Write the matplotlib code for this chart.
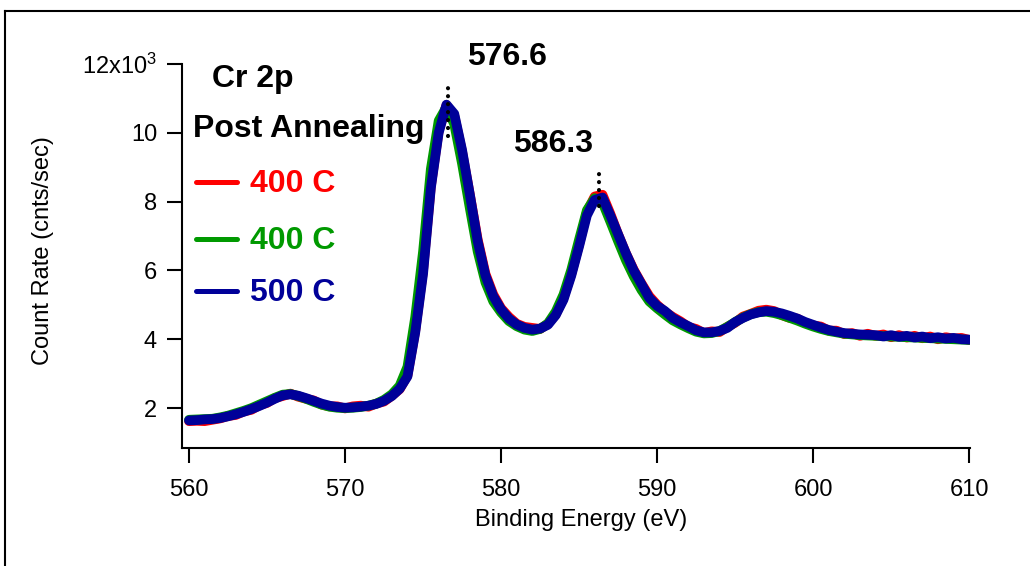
"""Cr 2p XPS spectra after annealing (three runs overlaid)."""

import matplotlib

matplotlib.use("Agg")
import matplotlib.pyplot as plt
from matplotlib.lines import Line2D

# binding energy grid [eV]
energy = [
    560.0, 560.5, 561.0, 561.5, 562.0, 562.5, 563.0, 563.5, 564.0, 564.5,
    565.0, 565.5, 566.0, 566.5, 567.0, 567.5, 568.0, 568.5, 569.0, 569.5,
    570.0, 570.5, 571.0, 571.5, 572.0, 572.5, 573.0, 573.5, 574.0, 574.5,
    575.0, 575.5, 576.0, 576.5, 577.0, 577.5, 578.0, 578.5, 579.0, 579.5,
    580.0, 580.5, 581.0, 581.5, 582.0, 582.5, 583.0, 583.5, 584.0, 584.5,
    585.0, 585.5, 586.0, 586.5, 587.0, 587.5, 588.0, 588.5, 589.0, 589.5,
    590.0, 590.5, 591.0, 591.5, 592.0, 592.5, 593.0, 593.5, 594.0, 594.5,
    595.0, 595.5, 596.0, 596.5, 597.0, 597.5, 598.0, 598.5, 599.0, 599.5,
    600.0, 600.5, 601.0, 601.5, 602.0, 602.5, 603.0, 603.5, 604.0, 604.5,
    605.0, 605.5, 606.0, 606.5, 607.0, 607.5, 608.0, 608.5, 609.0, 609.5,
    610.0,
]

# count rate in units of 10^3 cnts/sec
red_400 = [
    1.62, 1.63, 1.62, 1.66, 1.70, 1.77, 1.80, 1.90, 1.95, 2.08,
    2.15, 2.29, 2.35, 2.42, 2.33, 2.27, 2.22, 2.10, 2.05, 2.05,
    1.99, 2.05, 2.07, 2.04, 2.13, 2.19, 2.36, 2.55, 2.95, 4.25,
    6.00, 8.45, 10.05, 10.80, 10.50, 9.45, 8.20, 6.90, 5.90, 5.30,
    4.90, 4.65, 4.45, 4.36, 4.33, 4.30, 4.45, 4.72, 5.20, 5.90,
    6.75, 7.70, 8.15, 8.20, 7.65, 7.05, 6.50, 6.02, 5.62, 5.25,
    5.00, 4.80, 4.65, 4.52, 4.36, 4.30, 4.18, 4.23, 4.21, 4.36,
    4.48, 4.66, 4.74, 4.83, 4.86, 4.82, 4.70, 4.62, 4.60, 4.47,
    4.40, 4.37, 4.25, 4.25, 4.15, 4.18, 4.10, 4.16, 4.10, 4.14,
    4.06, 4.12, 4.05, 4.10, 4.03, 4.08, 4.00, 4.06, 4.02, 4.04,
    3.98,
]
green_400 = [
    1.66, 1.67, 1.68, 1.69, 1.73, 1.78, 1.85, 1.92, 2.00, 2.10,
    2.20, 2.30, 2.39, 2.41, 2.35, 2.27, 2.18, 2.10, 2.04, 2.01,
    2.00, 2.01, 2.03, 2.07, 2.13, 2.24, 2.40, 2.65, 3.20, 4.65,
    6.55, 8.95, 10.35, 10.75, 10.25, 9.10, 7.80, 6.55, 5.65, 5.10,
    4.78, 4.53, 4.38, 4.28, 4.24, 4.30, 4.46, 4.80, 5.30, 6.02,
    6.90, 7.75, 8.10, 7.98, 7.42, 6.85, 6.30, 5.83, 5.43, 5.10,
    4.90, 4.72, 4.55, 4.43, 4.32, 4.22, 4.17, 4.18, 4.24, 4.36,
    4.50, 4.63, 4.73, 4.79, 4.80, 4.76, 4.70, 4.62, 4.54, 4.45,
    4.37, 4.30, 4.24, 4.20, 4.16, 4.14, 4.12, 4.11, 4.10, 4.09,
    4.08, 4.07, 4.06, 4.05, 4.04, 4.03, 4.02, 4.01, 4.00, 3.99,
    3.98,
]
blue_500 = [
    1.64, 1.65, 1.67, 1.68, 1.71, 1.76, 1.82, 1.89, 1.97, 2.06,
    2.16, 2.27, 2.37, 2.40, 2.36, 2.29, 2.21, 2.13, 2.07, 2.03,
    2.01, 2.02, 2.04, 2.07, 2.12, 2.21, 2.35, 2.56, 2.92, 4.20,
    5.90, 8.40, 10.00, 10.82, 10.55, 9.50, 8.20, 6.85, 5.85, 5.25,
    4.87, 4.60, 4.43, 4.33, 4.28, 4.31, 4.42, 4.70, 5.15, 5.85,
    6.70, 7.60, 8.05, 8.12, 7.60, 7.05, 6.50, 6.00, 5.60, 5.20,
    4.97, 4.82, 4.62, 4.49, 4.38, 4.26, 4.20, 4.20, 4.24, 4.33,
    4.50, 4.62, 4.72, 4.78, 4.82, 4.80, 4.75, 4.68, 4.60, 4.50,
    4.42, 4.34, 4.27, 4.22, 4.18, 4.16, 4.14, 4.13, 4.12, 4.08,
    4.12, 4.07, 4.10, 4.05, 4.08, 4.03, 4.06, 4.02, 4.04, 4.00,
    3.99,
]

series_labels = ["400 C", "400 C", "500 C"]
series_colors = ["#ff0000", "#009900", "#000099"]

# peak markers: position [eV], dotted span (low, high), label position
peak_pos = [576.6, 586.3]
peak_span = [(9.9, 11.5), (7.86, 8.83)]
peak_text = ["576.6", "586.3"]
peak_text_xy = [(577.8, 12.2), (580.75, 9.67)]

y_ticks = [2, 4, 6, 8, 10, 12]
y_ticklabels = ["2", "4", "6", "8", "10", "12x10$^{3}$"]
x_ticks = [560, 570, 580, 590, 600, 610]

plt.rcParams.update({
    "font.family": ["Liberation Sans", "DejaVu Sans"],
    "mathtext.fontset": "custom",
    "mathtext.rm": "Liberation Sans",
    "mathtext.it": "Liberation Sans:italic",
})

fig = plt.figure(figsize=(10.3, 5.66), dpi=100)
ax = fig.add_axes([0.1767, 0.2085, 0.765, 0.6784])

for ys, c in zip([red_400, green_400, blue_500], series_colors):
    ax.plot(energy, ys, color=c, lw=7.0, solid_capstyle="round",
            solid_joinstyle="round")

# dotted peak markers
for e, (lo, hi) in zip(peak_pos, peak_span):
    ax.plot([e, e], [lo, hi], color="black", lw=3.0,
            linestyle=(0, (0.01, 1.9)), dash_capstyle="round", clip_on=False)
for t, (tx, ty) in zip(peak_text, peak_text_xy):
    ax.text(tx, ty, t, fontsize=23, fontweight="bold", ha="left", va="center",
            clip_on=False)

ax.text(561.47, 11.56, "Cr 2p", fontsize=23, fontweight="bold", va="center")
ax.text(560.26, 10.1, "Post Annealing", fontsize=23, fontweight="bold",
        va="center")

# hand-made legend
leg_y = [8.56, 6.9, 5.39]
for lab, c, y in zip(series_labels, series_colors, leg_y):
    ax.plot([560.45, 563.05], [y, y], color=c, lw=3.6, solid_capstyle="round")
    ax.text(563.9, y - 0.05, lab, color=c, fontsize=23, fontweight="bold",
            va="center")

ax.set_xlim(559.55, 610.05)
ax.set_ylim(0.84, 12)
ax.set_xticks(x_ticks)
ax.set_yticks(y_ticks)
ax.set_yticklabels(y_ticklabels)
ax.tick_params(direction="out", length=11, width=1.5, labelsize=17, pad=7)
ax.tick_params(axis="x", pad=11)
for s in ("top", "right"):
    ax.spines[s].set_visible(False)
for s in ("left", "bottom"):
    ax.spines[s].set_linewidth(1.5)

ax.set_xlabel("Binding Energy (eV)", fontsize=17)
ax.set_ylabel("Count Rate (cnts/sec)", fontsize=17)
ax.xaxis.set_label_coords(0.507, -0.16)
ax.yaxis.set_label_coords(-0.162, 0.513)

# outer frame (right and bottom edges fall outside the image)
fig.add_artist(Line2D([0.0049, 1.0], [0.9806, 0.9806], color="black", lw=1.5,
                      transform=fig.transFigure))
fig.add_artist(Line2D([0.0049, 0.0049], [0.0, 0.9806], color="black", lw=1.5,
                      transform=fig.transFigure))

fig.savefig("out.png", dpi=100)
